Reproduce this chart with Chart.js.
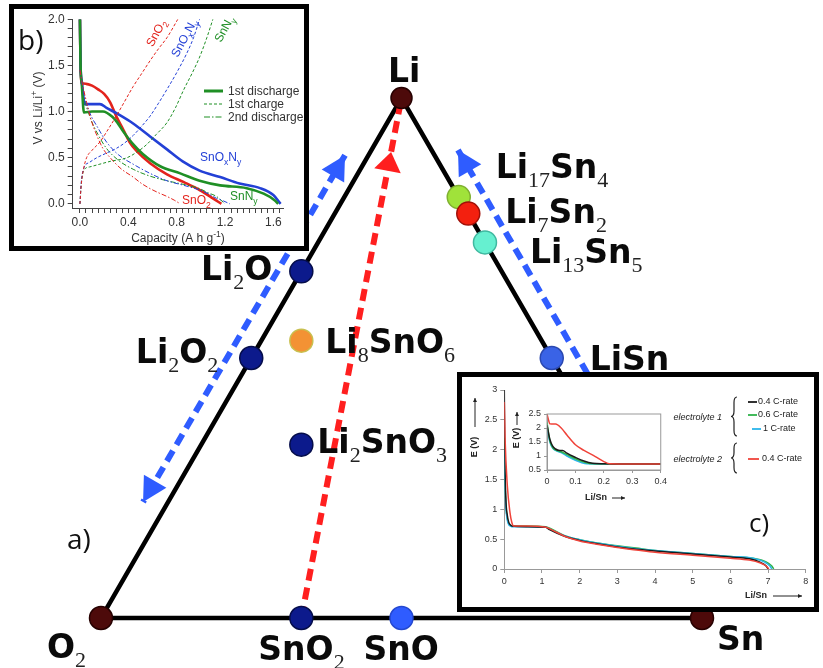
<!DOCTYPE html>
<html>
<head>
<meta charset="utf-8">
<script src="https://cdn.jsdelivr.net/npm/chart.js@4.4.1/dist/chart.umd.min.js"></script>
<style>
  body { margin: 0; background: #fff; }
  #wrap { position: relative; width: 823px; height: 668px; overflow: hidden; }
  canvas { position: absolute; }
  .box { position: absolute; box-sizing: border-box; border: 5px solid #000; background: #fff; }
  #boxB { left: 9px; top: 4px; width: 300px; height: 247px; }
  #boxC { left: 457px; top: 372px; width: 362px; height: 240px; }
</style>
</head>
<body>
<div id="wrap">
  <canvas id="mainChart" width="823" height="668" style="left:0;top:0"></canvas>
  <div class="box" id="boxB"><canvas id="chartB" width="290" height="237" style="left:0;top:0"></canvas></div>
  <div class="box" id="boxC">
    <canvas id="chartC" width="352" height="230" style="left:0;top:0"></canvas>
    <canvas id="chartC2" width="160" height="105" style="left:48px;top:28px"></canvas>
  </div>
</div>
<script>
// ---- a) ternary Li-Sn-O diagram: phases as atom counts ----
const phaseNames = ['O2', 'Sn', 'Li', 'SnO2', 'SnO', 'Li2O', 'Li2O2', 'Li8SnO6', 'Li2SnO3', 'Li17Sn4', 'Li7Sn2', 'Li13Sn5', 'LiSn'];
const liAtoms = [0, 0, 1, 0, 0, 2, 2, 8, 2, 17, 7, 13, 1];
const snAtoms = [0, 1, 0, 1, 1, 0, 0, 1, 1, 4, 2, 5, 1];
const oAtoms  = [2, 0, 0, 2, 1, 1, 2, 6, 3, 0, 0, 0, 0];

// lithiation paths (cartesian ternary coords: x = Sn + Li/2, y = Li)
const pathLeftBlue  = [{ x: 0.406, y: 0.890 }, { x: 0.070, y: 0.223 }];
const pathRightBlue = [{ x: 0.594, y: 0.900 }, { x: 0.830, y: 0.429 }];
const redHeadAt = 0.896;

// ---- b) capacity (A h g-1) vs voltage (V) ----
const capSnO2Dis  = [0, 0.004, 0.012, 0.05, 0.10, 0.15, 0.20, 0.25, 0.30, 0.36, 0.41, 0.47, 0.58, 0.72, 0.86, 0.99, 1.10, 1.17];
const vSnO2Dis    = [2.0, 1.55, 1.31, 1.30, 1.28, 1.24, 1.19, 1.10, 0.95, 0.80, 0.67, 0.57, 0.44, 0.32, 0.235, 0.15, 0.06, 0.0];
const capSnONDis  = [0, 0.005, 0.015, 0.04, 0.10, 0.165, 0.22, 0.33, 0.44, 0.58, 0.72, 0.85, 0.99, 1.16, 1.32, 1.49, 1.60, 1.66];
const vSnONDis    = [2.0, 1.5, 1.33, 1.08, 1.08, 1.08, 1.04, 0.96, 0.87, 0.73, 0.59, 0.46, 0.36, 0.29, 0.22, 0.17, 0.095, 0.0];
const capSnNDis   = [0, 0.005, 0.015, 0.033, 0.10, 0.19, 0.27, 0.31, 0.36, 0.43, 0.52, 0.66, 0.83, 0.99, 1.16, 1.38, 1.52, 1.61, 1.64];
const vSnNDis     = [2.0, 1.5, 1.30, 0.99, 1.00, 1.00, 0.94, 0.88, 0.78, 0.66, 0.54, 0.41, 0.33, 0.25, 0.20, 0.17, 0.11, 0.04, 0.0];
const capSnO2Chg  = [0, 0.01, 0.03, 0.055, 0.10, 0.165, 0.23, 0.30, 0.37, 0.44, 0.51, 0.58, 0.65, 0.72, 0.81];
const vSnO2Chg    = [0, 0.2, 0.38, 0.5, 0.58, 0.67, 0.80, 0.95, 1.11, 1.27, 1.41, 1.55, 1.68, 1.80, 2.0];
const capSnONChg  = [0, 0.01, 0.03, 0.08, 0.14, 0.22, 0.30, 0.37, 0.44, 0.51, 0.58, 0.65, 0.72, 0.80, 0.88, 0.94, 0.99];
const vSnONChg    = [0, 0.22, 0.38, 0.45, 0.50, 0.55, 0.60, 0.66, 0.74, 0.84, 0.95, 1.09, 1.24, 1.42, 1.62, 1.80, 2.0];
const capSnNChg   = [0, 0.01, 0.03, 0.08, 0.165, 0.25, 0.39, 0.47, 0.55, 0.63, 0.72, 0.79, 0.86, 0.93, 0.99, 1.05, 1.10];
const vSnNChg     = [0, 0.2, 0.36, 0.40, 0.43, 0.46, 0.50, 0.56, 0.64, 0.75, 0.88, 1.04, 1.24, 1.42, 1.59, 1.80, 2.0];
const capSnO2Dis2 = [0, 0.02, 0.055, 0.09, 0.14, 0.19, 0.25, 0.34, 0.44, 0.51, 0.58, 0.65, 0.72, 0.78, 0.83];
const vSnO2Dis2   = [1.45, 1.30, 1.10, 0.92, 0.74, 0.60, 0.50, 0.38, 0.29, 0.22, 0.165, 0.12, 0.08, 0.04, 0.0];
const capSnONDis2 = [0, 0.03, 0.08, 0.15, 0.22, 0.32, 0.44, 0.58, 0.72, 0.86, 0.99, 1.06, 1.13, 1.19, 1.24];
const vSnONDis2   = [1.45, 1.20, 0.99, 0.82, 0.67, 0.53, 0.43, 0.33, 0.25, 0.20, 0.15, 0.11, 0.06, 0.03, 0.0];
const capSnNDis2  = [0, 0.03, 0.08, 0.15, 0.22, 0.32, 0.44, 0.58, 0.72, 0.86, 0.99, 1.06, 1.13, 1.20];
const vSnNDis2    = [1.45, 1.18, 0.95, 0.75, 0.60, 0.47, 0.375, 0.30, 0.25, 0.21, 0.165, 0.12, 0.08, 0.0];
const capTicks = [];
for (let i = 0; i <= 33; i++) capTicks.push(+(i * 0.05).toFixed(2));
const voltTicks = [];
for (let i = 0; i <= 20; i++) voltTicks.push(+(i * 0.1).toFixed(1));

// ---- c) Li/Sn vs E (V) ----
const liSnBlack = [0, 0.01, 0.04, 0.08, 0.12, 0.16, 0.2, 0.6, 1.1, 1.2, 1.6, 2.0, 2.5, 3.0, 3.5, 4.0, 5.0, 6.0, 6.5, 6.8, 6.95, 7.0];
const eBlack    = [3.0, 2.1, 1.2, 0.9, 0.78, 0.74, 0.72, 0.71, 0.70, 0.66, 0.55, 0.48, 0.42, 0.37, 0.33, 0.30, 0.25, 0.20, 0.17, 0.11, 0.05, 0.0];
const liSnGreen = [0, 0.01, 0.04, 0.08, 0.12, 0.16, 0.2, 0.6, 1.1, 1.22, 1.6, 2.0, 2.5, 3.0, 3.5, 4.0, 5.0, 6.0, 6.6, 6.95, 7.1, 7.15];
const eGreen    = [2.2, 1.7, 1.1, 0.85, 0.76, 0.73, 0.72, 0.72, 0.71, 0.68, 0.56, 0.49, 0.43, 0.39, 0.35, 0.31, 0.26, 0.21, 0.18, 0.12, 0.05, 0.0];
const liSnCyan  = [0, 0.01, 0.04, 0.08, 0.12, 0.16, 0.2, 0.6, 1.1, 1.2, 1.6, 2.0, 2.5, 3.0, 3.5, 4.0, 5.0, 6.0, 6.6, 6.9, 7.05, 7.1];
const eCyan     = [2.0, 1.6, 1.05, 0.82, 0.74, 0.72, 0.71, 0.71, 0.70, 0.67, 0.56, 0.49, 0.43, 0.38, 0.34, 0.31, 0.26, 0.21, 0.18, 0.12, 0.05, 0.0];
const liSnRed   = [0, 0.02, 0.08, 0.15, 0.2, 0.25, 0.6, 1.1, 1.25, 1.6, 2.0, 2.5, 3.0, 3.5, 4.0, 5.0, 6.0, 6.5, 6.8, 6.95, 7.02];
const eRed      = [2.8, 2.2, 1.4, 0.95, 0.78, 0.72, 0.72, 0.70, 0.66, 0.55, 0.47, 0.41, 0.36, 0.32, 0.28, 0.23, 0.18, 0.15, 0.10, 0.05, 0.0];
// zoom of the first 0.4 Li/Sn
const zLiSnBlack = [0, 0.01, 0.02, 0.03, 0.045, 0.055, 0.07, 0.1, 0.13, 0.16, 0.2, 0.3, 0.4];
const zEBlack    = [2.1, 1.6, 1.35, 1.25, 1.2, 1.2, 1.1, 0.95, 0.82, 0.74, 0.72, 0.71, 0.71];
const zLiSnGreen = [0, 0.01, 0.02, 0.03, 0.05, 0.07, 0.1, 0.13, 0.15, 0.2, 0.3, 0.4];
const zEGreen    = [2.2, 1.55, 1.3, 1.22, 1.15, 1.05, 0.9, 0.78, 0.73, 0.72, 0.71, 0.71];
const zLiSnCyan  = [0, 0.01, 0.02, 0.03, 0.05, 0.07, 0.1, 0.12, 0.14, 0.2, 0.3, 0.4];
const zECyan     = [2.0, 1.5, 1.28, 1.2, 1.12, 1.0, 0.85, 0.77, 0.72, 0.71, 0.71, 0.71];
const zLiSnRed   = [0, 0.005, 0.01, 0.03, 0.05, 0.07, 0.1, 0.13, 0.17, 0.2, 0.22, 0.3, 0.4];
const zERed      = [2.5, 2.3, 2.15, 2.14, 2.0, 1.75, 1.4, 1.2, 0.98, 0.8, 0.72, 0.71, 0.71];

const pts = (xs, ys) => xs.map((x, i) => ({ x: x, y: ys[i] }));

// ---------------- main ternary chart ----------------
const phasePts = phaseNames.map((n, i) => {
  const t = liAtoms[i] + snAtoms[i] + oAtoms[i];
  return { x: snAtoms[i] / t + 0.5 * liAtoms[i] / t, y: liAtoms[i] / t };
});
const P = name => phasePts[phaseNames.indexOf(name)];

const phaseStyle = {
  O2: ['#4d0a0a', '#260000'], Sn: ['#4d0a0a', '#260000'], Li: ['#4d0a0a', '#260000'],
  SnO2: ['#0c1a8c', '#050d4a'], SnO: ['#2f5cff', '#2448d0'],
  Li2O: ['#0c1a8c', '#050d4a'], Li2O2: ['#0c1a8c', '#050d4a'], Li2SnO3: ['#0c1a8c', '#050d4a'],
  Li8SnO6: ['#f39234', '#c8c050'], Li17Sn4: ['#a0e23a', '#7fb030'],
  Li7Sn2: ['#f3200f', '#a01008'], Li13Sn5: ['#66f0d0', '#40b8a0'], LiSn: ['#3a63e6', '#2a48b0']
};
// label placement: [dx, dy, align] in px from the point
const labelLayout = {
  Li: [-13.5, -16, 'left'], Li17Sn4: [37, -19, 'left'], Li7Sn2: [37, 9.5, 'left'],
  Li13Sn5: [45, 21, 'left'], LiSn: [38, 12, 'left'], Li2O: [-29, 9, 'right'],
  Li2O2: [-33, 5, 'right'], Li8SnO6: [24, 12, 'left'], Li2SnO3: [16, 8, 'left'],
  O2: [-54, 40, 'left'], SnO2: [-43, 42, 'left'], SnO: [-38, 42, 'left'], Sn: [15, 32, 'left']
};

function drawChem(ctx, name, x, y, align, bigFont, smallFont, drop) {
  const segs = name.match(/[A-Za-z]+|\d+/g);
  let w = 0;
  segs.forEach(s => { ctx.font = /\d/.test(s) ? smallFont : bigFont; w += ctx.measureText(s).width; });
  let cx = align === 'right' ? x - w : x;
  segs.forEach(s => {
    const sub = /\d/.test(s);
    ctx.font = sub ? smallFont : bigFont;
    ctx.fillStyle = sub ? '#222' : '#0a0a0a';
    ctx.fillText(s, cx, y + (sub ? drop : 0));
    cx += ctx.measureText(s).width;
  });
}

function arrowHead(ctx, tip, from, len, wid, color) {
  const dx = tip.x - from.x, dy = tip.y - from.y, d = Math.hypot(dx, dy);
  const ux = dx / d, uy = dy / d;
  const bx = tip.x - ux * len, by = tip.y - uy * len;
  ctx.beginPath();
  ctx.moveTo(tip.x, tip.y);
  ctx.lineTo(bx - uy * wid / 2, by + ux * wid / 2);
  ctx.lineTo(bx + uy * wid / 2, by - ux * wid / 2);
  ctx.closePath();
  ctx.fillStyle = color;
  ctx.fill();
}

const ternaryDecor = {
  id: 'ternaryDecor',
  afterDatasetsDraw(chart) {
    const { ctx, scales: { x, y } } = chart;
    const px = p => ({ x: x.getPixelForValue(p.x), y: y.getPixelForValue(p.y) });
    ctx.save();
    // arrow heads
    const a0 = px(pathLeftBlue[0]), a1 = px(pathLeftBlue[1]);
    arrowHead(ctx, a0, a1, 24, 26, '#2f5cff');
    arrowHead(ctx, a1, a0, 24, 26, '#2f5cff');
    const b0 = px(pathRightBlue[0]), b1 = px(pathRightBlue[1]);
    arrowHead(ctx, b0, b1, 24, 26, '#2f5cff');
    const s = px(P('SnO2')), l = px(P('Li'));
    const tip = { x: s.x + (l.x - s.x) * redHeadAt, y: s.y + (l.y - s.y) * redHeadAt };
    arrowHead(ctx, tip, s, 19, 27, '#ff1f1f');
    // phase labels
    ctx.textBaseline = 'alphabetic';
    phaseNames.forEach(n => {
      const p = px(P(n)), L = labelLayout[n];
      drawChem(ctx, n, p.x + L[0], p.y + L[1], L[2], 'bold 33px "DejaVu Sans"', '22px "Liberation Serif"', 9);
    });
    ctx.font = '28px "Open Sans"';
    ctx.fillStyle = '#111';
    ctx.fillText('a)', 67, 549);
    ctx.restore();
  }
};

new Chart(document.getElementById('mainChart'), {
  type: 'scatter',
  data: {
    datasets: [
      {
        data: phasePts,
        order: 0,
        pointRadius: phaseNames.map(n => n === 'Li' ? 10.5 : 11.5),
        pointBackgroundColor: phaseNames.map(n => phaseStyle[n][0]),
        pointBorderColor: phaseNames.map(n => phaseStyle[n][1]),
        pointBorderWidth: 1.5
      },
      {
        data: [P('SnO2'), P('Li')], showLine: true, order: 1,
        borderColor: '#ff1f1f', borderWidth: 6, borderDash: [12, 7], pointRadius: 0
      },
      {
        data: pathLeftBlue, showLine: true, order: 1,
        borderColor: '#2f5cff', borderWidth: 6, borderDash: [12, 7], pointRadius: 0
      },
      {
        data: pathRightBlue, showLine: true, order: 1,
        borderColor: '#2f5cff', borderWidth: 6, borderDash: [12, 7], pointRadius: 0
      },
      {
        data: [P('O2'), P('Sn'), P('Li'), P('O2')], showLine: true, order: 3,
        borderColor: '#000', borderWidth: 4.5, pointRadius: 0
      }
    ]
  },
  options: {
    responsive: false, animation: false,
    layout: { padding: 0, autoPadding: false },
    plugins: { legend: { display: false }, tooltip: { enabled: false } },
    scales: {
      x: { type: 'linear', display: false, min: -0.16805, max: 1.20133 },
      y: { type: 'linear', display: false, min: -0.09615, max: 1.18846 }
    }
  },
  plugins: [ternaryDecor]
});

// ---------------- inset b ----------------
function richText(ctx, parts, x, y, size, family, align) {
  const fontOf = k => (k === 'n' ? size : size * 0.72) + 'px ' + family;
  let w = 0;
  parts.forEach(([t, k]) => { ctx.font = fontOf(k); w += ctx.measureText(t).width; });
  let cx = align === 'center' ? x - w / 2 : x;
  parts.forEach(([t, k]) => {
    ctx.font = fontOf(k);
    const dy = k === 'sub' ? size * 0.3 : k === 'sup' ? -size * 0.42 : 0;
    ctx.fillText(t, cx, y + dy);
    cx += ctx.measureText(t).width;
  });
}

const RED_B = '#e3231c', BLUE_B = '#2340d6', GREEN_B = '#1f8f25';
const bLine = (xs, ys, color, width, dash) => ({
  data: pts(xs, ys), showLine: true, borderColor: color, borderWidth: width,
  borderDash: dash, pointRadius: 0, cubicInterpolationMode: 'monotone'
});

const insetBDecor = {
  id: 'insetBDecor',
  afterDraw(chart) {
    const ctx = chart.ctx;
    ctx.save();
    ctx.textBaseline = 'alphabetic';
    ctx.fillStyle = '#111';
    ctx.font = '28px "Open Sans"';
    ctx.fillText('b)', 4, 41);
    // axis titles
    ctx.fillStyle = '#333';
    ctx.save();
    ctx.translate(28, 99);
    ctx.rotate(-Math.PI / 2);
    richText(ctx, [['V vs Li/Li', 'n'], ['+', 'sup'], [' (V)', 'n']], 0, 0, 12, '"Liberation Sans"', 'center');
    ctx.restore();
    richText(ctx, [['Capacity (A h g', 'n'], ['-1', 'sup'], [')', 'n']], 164, 233, 12, '"Liberation Sans"', 'center');
    // legend
    const leg = [['1st discharge', [], 3], ['1st charge', [3, 2], 1.2], ['2nd discharge', [6, 2, 1.5, 2], 1.2]];
    leg.forEach(([txt, dash, w], i) => {
      const yy = 82 + i * 13;
      ctx.strokeStyle = GREEN_B; ctx.lineWidth = w; ctx.setLineDash(dash);
      ctx.beginPath(); ctx.moveTo(190, yy); ctx.lineTo(209, yy); ctx.stroke();
      ctx.fillStyle = '#333'; ctx.font = '12px "Liberation Sans"';
      ctx.fillText(txt, 214, yy + 4);
    });
    ctx.setLineDash([]);
    // curve labels
    ctx.fillStyle = BLUE_B;
    richText(ctx, [['SnO', 'n'], ['x', 'sub'], ['N', 'n'], ['y', 'sub']], 186, 152, 12, '"Liberation Sans"', 'left');
    ctx.fillStyle = RED_B;
    richText(ctx, [['SnO', 'n'], ['2', 'sub']], 168, 195, 12, '"Liberation Sans"', 'left');
    ctx.fillStyle = GREEN_B;
    richText(ctx, [['SnN', 'n'], ['y', 'sub']], 216, 191, 12, '"Liberation Sans"', 'left');
    const rot = [[RED_B, [['SnO', 'n'], ['2', 'sub']], 142, 24], [BLUE_B, [['SnO', 'n'], ['x', 'sub'], ['N', 'n'], ['y', 'sub']], 170, 29], [GREEN_B, [['SnN', 'n'], ['y', 'sub']], 210, 20]];
    rot.forEach(([c, parts, x0, y0]) => {
      ctx.save(); ctx.fillStyle = c; ctx.translate(x0, y0); ctx.rotate(-62 * Math.PI / 180);
      richText(ctx, parts, 0, 4, 12, '"Liberation Sans"', 'center');
      ctx.restore();
    });
    ctx.restore();
  }
};

const tickFontB = { family: '"Liberation Sans"', size: 12 };
new Chart(document.getElementById('chartB'), {
  type: 'scatter',
  data: {
    datasets: [
      bLine(capSnO2Chg, vSnO2Chg, RED_B, 1, [3, 2]),
      bLine(capSnONChg, vSnONChg, BLUE_B, 1, [3, 2]),
      bLine(capSnNChg, vSnNChg, GREEN_B, 1, [3, 2]),
      bLine(capSnO2Dis2, vSnO2Dis2, RED_B, 1, [5, 2, 1.5, 2]),
      bLine(capSnONDis2, vSnONDis2, BLUE_B, 1, [5, 2, 1.5, 2]),
      bLine(capSnNDis2, vSnNDis2, GREEN_B, 1, [5, 2, 1.5, 2]),
      bLine(capSnNDis, vSnNDis, GREEN_B, 2.6, []),
      bLine(capSnONDis, vSnONDis, BLUE_B, 2.6, []),
      bLine(capSnO2Dis, vSnO2Dis, RED_B, 2.6, [])
    ]
  },
  options: {
    responsive: false, animation: false,
    layout: { padding: { left: 0, right: 21, top: 5, bottom: 0 }, autoPadding: false },
    plugins: { legend: { display: false }, tooltip: { enabled: false } },
    scales: {
      x: {
        type: 'linear', min: -0.06, max: 1.68,
        afterBuildTicks: s => { s.ticks = capTicks.map(v => ({ value: v })); },
        afterFit: s => { s.height = 38; },
        ticks: {
          autoSkip: false, maxRotation: 0, padding: 2, color: '#333', font: tickFontB,
          callback: v => Math.abs(v / 0.4 - Math.round(v / 0.4)) < 1e-6 ? v.toFixed(1) : ''
        },
        grid: { drawOnChartArea: false, tickLength: 5, color: '#444' },
        border: { color: '#444', width: 1 }
      },
      y: {
        type: 'linear', min: -0.045, max: 2.0,
        afterBuildTicks: s => { s.ticks = voltTicks.map(v => ({ value: v })); },
        afterFit: s => { s.width = 58.7; },
        ticks: {
          autoSkip: false, padding: 3, color: '#333', font: tickFontB,
          callback: v => Math.abs(v / 0.5 - Math.round(v / 0.5)) < 1e-6 ? v.toFixed(1) : ''
        },
        grid: { drawOnChartArea: false, tickLength: 5, color: '#444' },
        border: { color: '#444', width: 1 }
      }
    }
  },
  plugins: [insetBDecor]
});

// ---------------- inset c ----------------
const C_BLACK = '#1a1a1a', C_GREEN = '#2fb34a', C_CYAN = '#2bb5ea', C_RED = '#f0433a';
const cLine = (xs, ys, color) => ({
  data: pts(xs, ys), showLine: true, borderColor: color, borderWidth: 1.5, pointRadius: 0,
  cubicInterpolationMode: 'monotone'
});
const tickFontC = { family: '"Liberation Sans"', size: 9 };
const plainTick = v => String(+v.toFixed(2));

function titleArrow(ctx, x1, y1, x2, y2) {
  ctx.beginPath(); ctx.moveTo(x1, y1); ctx.lineTo(x2, y2); ctx.stroke();
  const a = Math.atan2(y2 - y1, x2 - x1);
  ctx.beginPath();
  ctx.moveTo(x2, y2);
  ctx.lineTo(x2 - 4 * Math.cos(a) + 2 * Math.sin(a), y2 - 4 * Math.sin(a) - 2 * Math.cos(a));
  ctx.lineTo(x2 - 4 * Math.cos(a) - 2 * Math.sin(a), y2 - 4 * Math.sin(a) + 2 * Math.cos(a));
  ctx.closePath(); ctx.fill();
}
function brace(ctx, x, y1, y2, w) {
  const xm = x + w / 2, ym = (y1 + y2) / 2, r = w * 0.9;
  ctx.beginPath();
  ctx.moveTo(x + w, y1);
  ctx.quadraticCurveTo(xm, y1, xm, y1 + r);
  ctx.lineTo(xm, ym - r);
  ctx.quadraticCurveTo(xm, ym, x, ym);
  ctx.quadraticCurveTo(xm, ym, xm, ym + r);
  ctx.lineTo(xm, y2 - r);
  ctx.quadraticCurveTo(xm, y2, x + w, y2);
  ctx.stroke();
}

const insetCDecor = {
  id: 'insetCDecor',
  afterDraw(chart) {
    const ctx = chart.ctx;
    ctx.save();
    ctx.fillStyle = '#222'; ctx.strokeStyle = '#222'; ctx.lineWidth = 1;
    // y title
    ctx.save();
    ctx.translate(13, 70); ctx.rotate(-Math.PI / 2);
    ctx.font = 'bold 9px "Liberation Sans"'; ctx.textAlign = 'center'; ctx.textBaseline = 'middle';
    ctx.fillText('E (V)', 0, 0);
    titleArrow(ctx, 20, 0, 49, 0);
    ctx.restore();
    // x title
    ctx.font = 'bold 9px "Liberation Sans"'; ctx.textBaseline = 'middle';
    ctx.fillText('Li/Sn', 283, 219);
    titleArrow(ctx, 311, 219, 340, 219);
    // legend
    ctx.font = 'italic 9px "Liberation Sans"'; ctx.textAlign = 'right';
    ctx.fillText('electrolyte 1', 260, 40);
    ctx.fillText('electrolyte 2', 260, 82);
    ctx.lineWidth = 1.2;
    brace(ctx, 269, 20, 59, 6);
    brace(ctx, 269, 66, 96, 6);
    ctx.textAlign = 'left'; ctx.font = '9px "Liberation Sans"';
    const items = [[C_BLACK, 25, 286, '0.4 C-rate', 296], [C_GREEN, 38, 286, '0.6 C-rate', 296], [C_CYAN, 52, 290, '1 C-rate', 301], [C_RED, 82, 286, '0.4 C-rate', 300]];
    items.forEach(([c, yy, x0, txt, tx]) => {
      ctx.strokeStyle = c; ctx.lineWidth = 1.8;
      ctx.beginPath(); ctx.moveTo(x0, yy); ctx.lineTo(x0 + (c === C_RED ? 11 : 9), yy); ctx.stroke();
      ctx.fillStyle = '#222'; ctx.fillText(txt, tx, yy);
    });
    ctx.fillStyle = '#111'; ctx.textBaseline = 'alphabetic';
    ctx.font = '26px "Open Sans"';
    ctx.fillText('c)', 287, 155);
    ctx.restore();
  }
};

new Chart(document.getElementById('chartC'), {
  type: 'scatter',
  data: {
    datasets: [
      cLine(liSnRed, eRed, C_RED),
      cLine(liSnBlack, eBlack, C_BLACK),
      cLine(liSnCyan, eCyan, C_CYAN),
      cLine(liSnGreen, eGreen, C_GREEN)
    ]
  },
  options: {
    responsive: false, animation: false,
    layout: { padding: { left: 0, right: 8.3, top: 13, bottom: 0 }, autoPadding: false },
    plugins: { legend: { display: false }, tooltip: { enabled: false } },
    scales: {
      x: {
        type: 'linear', min: 0, max: 8,
        afterFit: s => { s.height = 38; },
        ticks: { stepSize: 1, maxRotation: 0, padding: 3, color: '#333', font: tickFontC, callback: plainTick },
        grid: { drawOnChartArea: false, tickLength: 4, color: '#999' },
        border: { color: '#999' }
      },
      y: {
        type: 'linear', min: 0, max: 3,
        afterFit: s => { s.width = 42.3; },
        ticks: { stepSize: 0.5, padding: 3, color: '#333', font: tickFontC, callback: plainTick },
        grid: { drawOnChartArea: false, tickLength: 4, color: '#999' },
        border: { color: '#999' }
      }
    }
  },
  plugins: [insetCDecor]
});

const zoomCDecor = {
  id: 'zoomCDecor',
  afterDraw(chart) {
    const { ctx, chartArea: a } = chart;
    ctx.save();
    ctx.strokeStyle = '#999'; ctx.lineWidth = 1;
    ctx.strokeRect(a.left, a.top, a.right - a.left, a.bottom - a.top);
    ctx.fillStyle = '#222'; ctx.strokeStyle = '#222';
    ctx.save();
    ctx.translate(7, 33); ctx.rotate(-Math.PI / 2);
    ctx.font = 'bold 9px "Liberation Sans"'; ctx.textAlign = 'center'; ctx.textBaseline = 'middle';
    ctx.fillText('E (V)', 0, 0);
    titleArrow(ctx, 13, 0, 26, 0);
    ctx.restore();
    ctx.font = 'bold 9px "Liberation Sans"'; ctx.textBaseline = 'middle';
    ctx.fillText('Li/Sn', 75, 93);
    titleArrow(ctx, 102, 93, 115, 93);
    ctx.restore();
  }
};

new Chart(document.getElementById('chartC2'), {
  type: 'scatter',
  data: {
    datasets: [
      cLine(zLiSnRed, zERed, C_RED),
      cLine(zLiSnBlack, zEBlack, C_BLACK),
      cLine(zLiSnGreen, zEGreen, C_GREEN),
      cLine(zLiSnCyan, zECyan, C_CYAN)
    ]
  },
  options: {
    responsive: false, animation: false,
    layout: { padding: { left: 0, right: 9, top: 9, bottom: 0 }, autoPadding: false },
    plugins: { legend: { display: false }, tooltip: { enabled: false } },
    scales: {
      x: {
        type: 'linear', min: 0, max: 0.4,
        afterFit: s => { s.height = 40; },
        ticks: { stepSize: 0.1, maxRotation: 0, padding: 3, color: '#333', font: tickFontC, callback: plainTick },
        grid: { drawOnChartArea: false, tickLength: 3, color: '#999' },
        border: { color: '#999' }
      },
      y: {
        type: 'linear', min: 0.5, max: 2.5,
        afterFit: s => { s.width = 37; },
        ticks: { stepSize: 0.5, padding: 3, color: '#333', font: tickFontC, callback: plainTick },
        grid: { drawOnChartArea: false, tickLength: 3, color: '#999' },
        border: { color: '#999' }
      }
    }
  },
  plugins: [zoomCDecor]
});
</script>
</body>
</html>
